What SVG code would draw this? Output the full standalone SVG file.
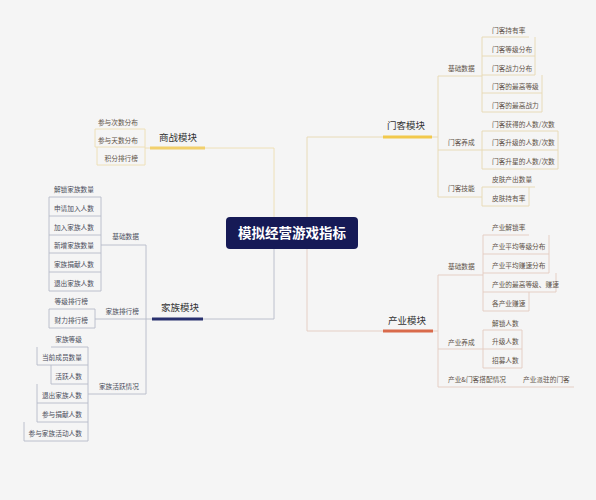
<svg xmlns="http://www.w3.org/2000/svg" width="596" height="500" viewBox="0 0 596 500">
<style>
text{font-family:"Noto Sans CJK SC","Noto Sans",sans-serif}
.s{font-size:6.7px}
.w{fill:#5e5248}
.b{fill:#4b4e5c}
.m{font-size:9.5px;fill:#333;text-anchor:middle}
.e{text-anchor:end}
.ln{fill:none;stroke-width:0.9}
.sz{stroke:#eedfb2}
.mk{stroke:#e8d9b2}
.jz{stroke:#b7bbc9}
.cy{stroke:#e4ccc1}
.ul{fill:none;stroke-width:3}
</style>
<rect width="596" height="500" fill="#f5f5f5"/>
<g id="connectors">
<path class="ln sz" d="M205 148H274V217M145 129V165M145 148H150"/>
<path class="ln jz" d="M203 319H274V249M146 245V394M146 319H152M101 197V291M95 309V328M88 347V441"/>
<path class="ln mk" d="M307 233V137H383M438 76V197M432 137H438M482 37V112M482 131V169M482 187V206"/>
<path class="ln cy" d="M307 233V331H383M438 275V387M433 331H438M483 235V311M483 330V368"/>
</g>
<g id="root">
<rect x="226" y="217" width="132" height="32" rx="4" fill="#161a56"/>
<text x="292" y="238" font-size="13.5" font-weight="bold" fill="#fff" text-anchor="middle">模拟经营游戏指标</text>
</g>
<g id="shangzhan">
<path class="ul" stroke="#f2d06c" d="M150 148H205"/>
<text class="m" x="178" y="140.5">商战模块</text>
</g>
<g id="sz1"><path class="ln sz" d="M95 129H145"/><text class="s w e" x="138" y="125.4">参与次数分布</text></g>
<g id="sz2"><path class="ln sz" d="M95 129V147H145"/><text class="s w e" x="138" y="143.4">参与天数分布</text></g>
<g id="sz3"><path class="ln sz" d="M97 147V165H145"/><text class="s w e" x="138" y="161.4">积分排行榜</text></g>

<g id="jiazu">
<path class="ul" stroke="#28306e" d="M152 319H203"/>
<text class="m" x="180" y="310.5">家族模块</text>
</g>
<g id="jz-base"><path class="ln jz" d="M101 245H146"/><text class="s b e" x="139" y="239.4">基础数据</text></g>
<g id="jz-b1"><path class="ln jz" d="M49 197H101"/><text class="s b e" x="94" y="192.4">解锁家族数量</text></g>
<g id="jz-b2"><path class="ln jz" d="M49 197V216H101"/><text class="s b e" x="94" y="211.4">申请加入人数</text></g>
<g id="jz-b3"><path class="ln jz" d="M49 216V235H101"/><text class="s b e" x="94" y="230.4">加入家族人数</text></g>
<g id="jz-b4"><path class="ln jz" d="M49 235V253H101"/><text class="s b e" x="94" y="248.4">新增家族数量</text></g>
<g id="jz-b5"><path class="ln jz" d="M49 253V272H101"/><text class="s b e" x="94" y="267.4">家族捐献人数</text></g>
<g id="jz-b6"><path class="ln jz" d="M49 272V291H101"/><text class="s b e" x="94" y="286.4">退出家族人数</text></g>
<g id="jz-rank"><path class="ln jz" d="M95 319H146"/><text class="s b e" x="139" y="314.4">家族排行榜</text></g>
<g id="jz-r1"><path class="ln jz" d="M49 309H95"/><text class="s b e" x="88" y="304.4">等级排行榜</text></g>
<g id="jz-r2"><path class="ln jz" d="M49 309V328H95"/><text class="s b e" x="88" y="323.4">财力排行榜</text></g>
<g id="jz-act"><path class="ln jz" d="M88 394H146"/><text class="s b e" x="139" y="389.4">家族活跃情况</text></g>
<g id="jz-a1"><path class="ln jz" d="M51 347H88"/><text class="s b e" x="82" y="342.4">家族等级</text></g>
<g id="jz-a2"><path class="ln jz" d="M37 347V365H88"/><text class="s b e" x="82" y="360.4">当前成员数量</text></g>
<g id="jz-a3"><path class="ln jz" d="M51 365V384H88"/><text class="s b e" x="82" y="379.4">活跃人数</text></g>
<g id="jz-a4"><path class="ln jz" d="M37 384V403H88"/><text class="s b e" x="82" y="398.4">退出家族人数</text></g>
<g id="jz-a5"><path class="ln jz" d="M37 403V422H88"/><text class="s b e" x="82" y="417.4">参与捐献人数</text></g>
<g id="jz-a6"><path class="ln jz" d="M24 422V441H88"/><text class="s b e" x="82" y="436.4">参与家族活动人数</text></g>

<g id="menke">
<path class="ul" stroke="#f2c94c" d="M383 137H432"/>
<text class="m" x="406" y="128.5">门客模块</text>
</g>
<g id="mk-base"><path class="ln mk" d="M438 76H482"/><text class="s w" x="448" y="71.4">基础数据</text></g>
<g id="mk-b1"><path class="ln mk" d="M482 37H529"/><text class="s w" x="492" y="33.4">门客持有率</text></g>
<g id="mk-b2"><path class="ln mk" d="M482 56H535V37"/><text class="s w" x="492" y="52.4">门客等级分布</text></g>
<g id="mk-b3"><path class="ln mk" d="M482 75H535V56"/><text class="s w" x="492" y="71.4">门客战力分布</text></g>
<g id="mk-b4"><path class="ln mk" d="M482 93H542V75"/><text class="s w" x="492" y="89.4">门客的最高等级</text></g>
<g id="mk-b5"><path class="ln mk" d="M482 112H542V93"/><text class="s w" x="492" y="108.4">门客的最高战力</text></g>
<g id="mk-grow"><path class="ln mk" d="M438 150H482"/><text class="s w" x="448" y="145.4">门客养成</text></g>
<g id="mk-g1"><path class="ln mk" d="M482 131H558"/><text class="s w" x="492" y="127.4">门客获得的人数/次数</text></g>
<g id="mk-g2"><path class="ln mk" d="M482 150H558V131"/><text class="s w" x="492" y="145.4">门客升级的人数/次数</text></g>
<g id="mk-g3"><path class="ln mk" d="M482 169H558V150"/><text class="s w" x="492" y="164.4">门客升星的人数/次数</text></g>
<g id="mk-skill"><path class="ln mk" d="M438 197H482"/><text class="s w" x="448" y="191.4">门客技能</text></g>
<g id="mk-s1"><path class="ln mk" d="M482 187H535"/><text class="s w" x="492" y="182.4">皮肤产出数量</text></g>
<g id="mk-s2"><path class="ln mk" d="M482 206H529V187"/><text class="s w" x="492" y="201.4">皮肤持有率</text></g>

<g id="chanye">
<path class="ul" stroke="#d96a4b" d="M383 331H433"/>
<text class="m" x="407" y="323.5">产业模块</text>
</g>
<g id="cy-base"><path class="ln cy" d="M438 275H483"/><text class="s w" x="448" y="269.4">基础数据</text></g>
<g id="cy-b1"><path class="ln cy" d="M483 235H529"/><text class="s w" x="492" y="230.4">产业解锁率</text></g>
<g id="cy-b2"><path class="ln cy" d="M483 254H549V235"/><text class="s w" x="492" y="249.4">产业平均等级分布</text></g>
<g id="cy-b3"><path class="ln cy" d="M483 273H549V254"/><text class="s w" x="492" y="268.4">产业平均赚速分布</text></g>
<g id="cy-b4"><path class="ln cy" d="M483 292H556V273"/><text class="s w" x="492" y="287.4">产业的最高等级、赚速</text></g>
<g id="cy-b5"><path class="ln cy" d="M483 311H529V292"/><text class="s w" x="492" y="306.4">各产业赚速</text></g>
<g id="cy-grow"><path class="ln cy" d="M438 349H483"/><text class="s w" x="448" y="345.4">产业养成</text></g>
<g id="cy-g1"><path class="ln cy" d="M483 330H522"/><text class="s w" x="492" y="326.4">解锁人数</text></g>
<g id="cy-g2"><path class="ln cy" d="M483 349H522V330"/><text class="s w" x="492" y="344.4">升级人数</text></g>
<g id="cy-g3"><path class="ln cy" d="M483 368H522V349"/><text class="s w" x="492" y="363.4">招募人数</text></g>
<g id="cy-mix"><path class="ln cy" d="M438 387H520"/><text class="s w" x="448" y="382.4">产业&amp;门客搭配情况</text></g>
<g id="cy-m1"><path class="ln cy" d="M520 387H574"/><text class="s w" x="523" y="382.4">产业派驻的门客</text></g>
</svg>
